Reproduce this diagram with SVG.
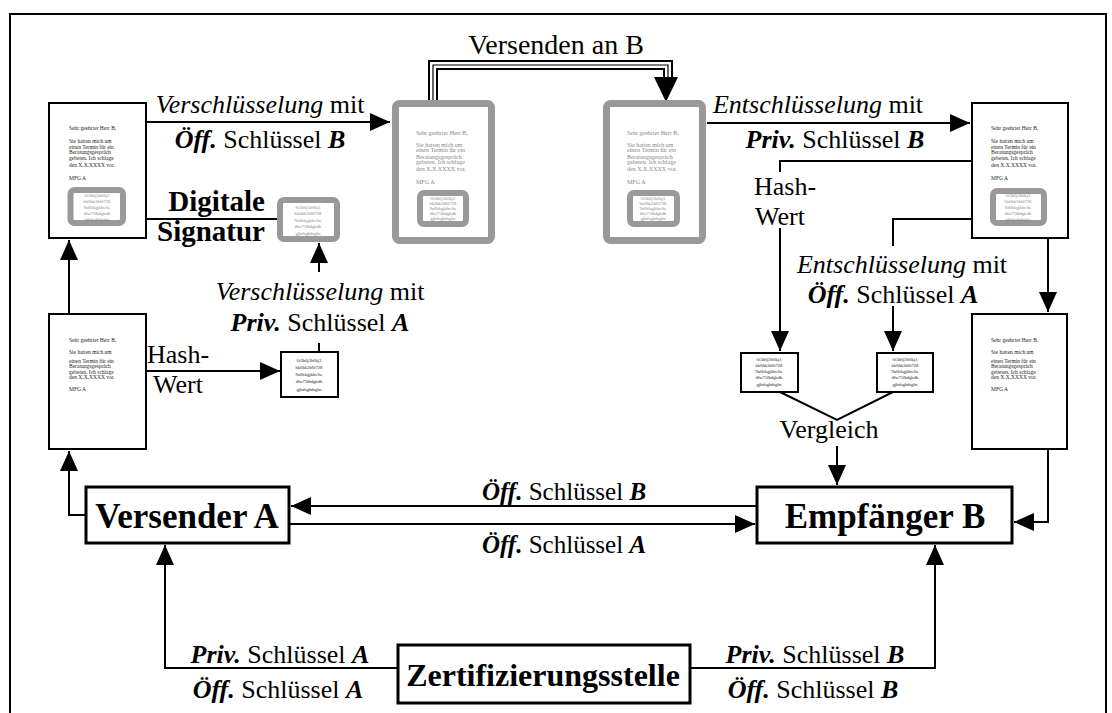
<svg xmlns="http://www.w3.org/2000/svg" width="1112" height="713" viewBox="0 0 1112 713">
<style>
.t{font-family:"Liberation Serif","Times New Roman",serif;font-size:26px;fill:#000}
.s25{font-size:25px}
.b{font-weight:bold}
.i{font-style:italic}
.big{font-family:"Liberation Serif","Times New Roman",serif;font-weight:bold;font-size:35px}
.doc{fill:#fff;stroke:#000;stroke-width:2}
.gdoc{fill:#fff;stroke:#999;stroke-width:7}
.gin{fill:#fff;stroke:#999;stroke-width:6}
.hb{fill:#fff;stroke:#000;stroke-width:2}
.lt{font-family:"Liberation Serif","Times New Roman",serif;font-size:5.5px;fill:#222}
.glt{font-family:"Liberation Serif","Times New Roman",serif;font-size:6px;fill:#888}
.ht{font-family:"Liberation Serif","Times New Roman",serif;font-size:4.6px;fill:#888;text-anchor:middle}
.hbt{font-family:"Liberation Serif","Times New Roman",serif;font-size:4.6px;fill:#222;text-anchor:middle}
.box{fill:#fff;stroke:#000;stroke-width:3}
.c{fill:none;stroke:#000;stroke-width:2}
.m{text-anchor:middle}
</style>
<defs>
<marker id="ah" viewBox="0 0 20 18" refX="20" refY="9" markerWidth="20" markerHeight="18" markerUnits="userSpaceOnUse" orient="auto"><path d="M0,0 L20,9 L0,18 z" fill="#000"/></marker>
</defs>
<rect x="10" y="14" width="1096" height="720" fill="none" stroke="#000" stroke-width="2"/>

<g id="connectors">
<path class="c" d="M146,122 H390" marker-end="url(#ah)"/>
<path class="c" d="M707,123 H970" marker-end="url(#ah)"/>
<path d="M433,102 V65 H668 V80" fill="none" stroke="#000" stroke-width="10"/>
<path d="M433,102 V65 H668 V80" fill="none" stroke="#fff" stroke-width="6"/>
<path d="M433,102 V65 H668 V80" fill="none" stroke="#000" stroke-width="1.2"/>
<path d="M654,77 L678,77 L666,102 z" fill="#000"/>
<path class="c" d="M277,219 H112" marker-end="url(#ah)"/>
<path class="c" d="M319,352 V343"/>
<path class="c" d="M319,272 V243" marker-end="url(#ah)"/>
<path class="c" d="M108,371 H280" marker-end="url(#ah)"/>
<path class="c" d="M69,314 V240" marker-end="url(#ah)"/>
<path class="c" d="M86,515 H69 V451" marker-end="url(#ah)"/>
<path class="c" d="M1000,161 H780 V172"/>
<path class="c" d="M780,228 V351" marker-end="url(#ah)"/>
<path class="c" d="M1003,219 H893 V246"/>
<path class="c" d="M893,306 V351" marker-end="url(#ah)"/>
<path class="c" d="M780,392 L837,420 L893,392"/>
<path class="c" d="M837,446 V485" marker-end="url(#ah)"/>
<path class="c" d="M1048,238 V312" marker-end="url(#ah)"/>
<path class="c" d="M1048,449 V522 H1014" marker-end="url(#ah)"/>
<path class="c" d="M757,506 H291" marker-end="url(#ah)"/>
<path class="c" d="M289,524 H755" marker-end="url(#ah)"/>
<path class="c" d="M398,668 H165 V545" marker-end="url(#ah)"/>
<path class="c" d="M690,668 H935 V545" marker-end="url(#ah)"/>
</g>

<g id="doc-a-top">
<rect class="doc" x="49" y="103" width="97" height="135"/>
<text class="lt" x="69" y="130">Sehr geehrter Herr B,</text>
<text class="lt" x="69" y="143">Sie hatten mich um</text>
<text class="lt" x="69" y="149">einen Termin für ein</text>
<text class="lt" x="69" y="154">Beratungsgespräch</text>
<text class="lt" x="69" y="160">gebeten. Ich schlage</text>
<text class="lt" x="69" y="167">den X.X.XXXX vor.</text>
<text class="lt" x="69" y="180">MFG A</text>
<rect class="gin" x="70.5" y="190" width="52.5" height="33" rx="4"/>
<text class="ht" x="97" y="197">6f3h6j3h6kj3</text>
<text class="ht" x="97" y="203">hk6hk3h6f728</text>
<text class="ht" x="97" y="209">9u6hkgjkhs/he</text>
<text class="ht" x="97" y="215">t8w758tdgkdh</text>
<text class="ht" x="97" y="221">gjhdsghdsghs</text>
</g>

<g id="doc-a-bottom">
<rect class="doc" x="49" y="314" width="97" height="135"/>
<text class="lt" x="69" y="342">Sehr geehrter Herr B,</text>
<text class="lt" x="69" y="354">Sie hatten mich um</text>
<text class="lt" x="69" y="363">einen Termin für ein</text>
<text class="lt" x="69" y="368">Beratungsgespräch</text>
<text class="lt" x="69" y="374">gebeten. Ich schlage</text>
<text class="lt" x="69" y="379">den X.X.XXXX vor.</text>
<text class="lt" x="69" y="391">MFG A</text>
</g>

<g id="signature">
<rect class="gin" x="280" y="200" width="57" height="39" rx="4"/>
<text class="ht" x="308" y="209">6f3h6j3h6kj3</text>
<text class="ht" x="308" y="215">hk6hk3h6f728</text>
<text class="ht" x="308" y="222">9u6hkgjkhs/he</text>
<text class="ht" x="308" y="228">t8w758tdgkdh</text>
<text class="ht" x="308" y="235">gjhdsghdsghs</text>
</g>

<g id="hash-a">
<rect class="hb" x="281" y="352" width="57" height="45"/>
<text class="hbt" x="309" y="362">6f3h6j3h6kj3</text>
<text class="hbt" x="309" y="369">hk6hk3h6f728</text>
<text class="hbt" x="309" y="376">9u6hkgjkhs/he</text>
<text class="hbt" x="309" y="383">t8w758tdgkdh</text>
<text class="hbt" x="309" y="391">gjhdsghdsghs</text>
</g>

<g id="doc-enc-1">
<rect class="gdoc" x="395.5" y="103.5" width="96" height="137" rx="4"/>
<text class="glt" x="416" y="135">Sehr geehrter Herr B,</text>
<text class="glt" x="416" y="147">Sie hatten mich um</text>
<text class="glt" x="416" y="152">einen Termin für ein</text>
<text class="glt" x="416" y="159">Beratungsgespräch</text>
<text class="glt" x="416" y="164">gebeten. Ich schlage</text>
<text class="glt" x="416" y="171">den X.X.XXXX vor.</text>
<text class="glt" x="416" y="184">MFG A</text>
<rect class="gin" x="420" y="193" width="46" height="31" rx="4"/>
<text class="ht" x="443" y="200">6f3h6j3h6kj3</text>
<text class="ht" x="443" y="205">hk6hk3h6f728</text>
<text class="ht" x="443" y="210">9u6hkgjkhs/he</text>
<text class="ht" x="443" y="215">t8w758tdgkdh</text>
<text class="ht" x="443" y="220">gjhdsghdsghs</text>
</g>

<g id="doc-enc-2">
<rect class="gdoc" x="606.5" y="103.5" width="96" height="137" rx="4"/>
<text class="glt" x="627" y="135">Sehr geehrter Herr B,</text>
<text class="glt" x="627" y="147">Sie hatten mich um</text>
<text class="glt" x="627" y="152">einen Termin für ein</text>
<text class="glt" x="627" y="159">Beratungsgespräch</text>
<text class="glt" x="627" y="164">gebeten. Ich schlage</text>
<text class="glt" x="627" y="171">den X.X.XXXX vor.</text>
<text class="glt" x="627" y="184">MFG A</text>
<rect class="gin" x="630" y="193" width="47" height="31" rx="4"/>
<text class="ht" x="653" y="200">6f3h6j3h6kj3</text>
<text class="ht" x="653" y="205">hk6hk3h6f728</text>
<text class="ht" x="653" y="210">9u6hkgjkhs/he</text>
<text class="ht" x="653" y="215">t8w758tdgkdh</text>
<text class="ht" x="653" y="220">gjhdsghdsghs</text>
</g>

<g id="doc-b-top">
<rect class="doc" x="972" y="103" width="96" height="135"/>
<text class="lt" x="991" y="130">Sehr geehrter Herr B,</text>
<text class="lt" x="991" y="143">Sie hatten mich um</text>
<text class="lt" x="991" y="149">einen Termin für ein</text>
<text class="lt" x="991" y="154">Beratungsgespräch</text>
<text class="lt" x="991" y="160">gebeten. Ich schlage</text>
<text class="lt" x="991" y="167">den X.X.XXXX vor.</text>
<text class="lt" x="991" y="180">MFG A</text>
<rect class="gin" x="993" y="191" width="51" height="32" rx="4"/>
<text class="ht" x="1018" y="197">6f3h6j3h6kj3</text>
<text class="ht" x="1018" y="203">hk6hk3h6f728</text>
<text class="ht" x="1018" y="209">9u6hkgjkhs/he</text>
<text class="ht" x="1018" y="215">t8w758tdgkdh</text>
<text class="ht" x="1018" y="221">gjhdsghdsghs</text>
</g>

<g id="doc-b-bottom">
<rect class="doc" x="972" y="314" width="95" height="135"/>
<text class="lt" x="991" y="342">Sehr geehrter Herr B,</text>
<text class="lt" x="991" y="354">Sie hatten mich um</text>
<text class="lt" x="991" y="363">einen Termin für ein</text>
<text class="lt" x="991" y="368">Beratungsgespräch</text>
<text class="lt" x="991" y="374">gebeten. Ich schlage</text>
<text class="lt" x="991" y="379">den X.X.XXXX vor.</text>
<text class="lt" x="991" y="391">MFG A</text>
</g>

<g id="hash-b1">
<rect class="hb" x="741" y="353" width="57" height="39"/>
<text class="hbt" x="769" y="361">6f3h6j3h6kj3</text>
<text class="hbt" x="769" y="367">hk6hk3h6f728</text>
<text class="hbt" x="769" y="373">9u6hkgjkhs/he</text>
<text class="hbt" x="769" y="379">t8w758tdgkdh</text>
<text class="hbt" x="769" y="386">gjhdsghdsghs</text>
</g>

<g id="hash-b2">
<rect class="hb" x="877" y="353" width="56" height="39"/>
<text class="hbt" x="905" y="361">6f3h6j3h6kj3</text>
<text class="hbt" x="905" y="367">hk6hk3h6f728</text>
<text class="hbt" x="905" y="373">9u6hkgjkhs/he</text>
<text class="hbt" x="905" y="379">t8w758tdgkdh</text>
<text class="hbt" x="905" y="386">gjhdsghdsghs</text>
</g>

<g id="versender">
<rect class="box" x="86" y="487" width="203" height="56"/>
<text class="big m" x="187" y="528">Versender A</text>
</g>
<g id="empfaenger">
<rect class="box" x="757" y="487" width="255" height="56"/>
<text class="big m" x="885" y="528">Empfänger B</text>
</g>
<g id="zert">
<rect class="box" x="398" y="645" width="292" height="58"/>
<text class="m" x="543" y="686" style="font-family:'Liberation Serif',serif;font-weight:bold;font-size:32px">Zertifizierungsstelle</text>
</g>

<g id="labels">
<text class="t m" x="556" y="54" style="font-size:28px">Versenden an B</text>
<text class="t m" x="260" y="113"><tspan class="i">Verschlüsselung</tspan> mit</text>
<text class="t m" x="260" y="148"><tspan class="b i">Öff.</tspan> Schlüssel <tspan class="b i">B</tspan></text>
<text class="t m" x="818" y="113"><tspan class="i">Entschlüsselung</tspan> mit</text>
<text class="t m" x="835" y="148"><tspan class="b i">Priv.</tspan> Schlüssel <tspan class="b i">B</tspan></text>
<text class="t b" x="265" y="211" text-anchor="end" style="font-size:29px">Digitale</text>
<text class="t b" x="265" y="241" text-anchor="end" style="font-size:29px">Signatur</text>
<text class="t m" x="320" y="300"><tspan class="i">Verschlüsselung</tspan> mit</text>
<text class="t m" x="320" y="331"><tspan class="b i">Priv.</tspan> Schlüssel <tspan class="b i">A</tspan></text>
<text class="t m" x="178" y="363">Hash-</text>
<text class="t m" x="178" y="393">Wert</text>
<text class="t m" x="785" y="195">Hash-</text>
<text class="t m" x="780" y="225">Wert</text>
<text class="t m" x="902" y="273"><tspan class="i">Entschlüsselung</tspan> mit</text>
<text class="t m" x="893" y="303"><tspan class="b i">Öff.</tspan> Schlüssel <tspan class="b i">A</tspan></text>
<text class="t m" x="829" y="438">Vergleich</text>
<text class="t m s25" x="564" y="500"><tspan class="b i">Öff.</tspan> Schlüssel <tspan class="b i">B</tspan></text>
<text class="t m s25" x="564" y="553"><tspan class="b i">Öff.</tspan> Schlüssel <tspan class="b i">A</tspan></text>
<text class="t m" x="280" y="663"><tspan class="b i">Priv.</tspan> Schlüssel <tspan class="b i">A</tspan></text>
<text class="t m" x="278" y="698"><tspan class="b i">Öff.</tspan> Schlüssel <tspan class="b i">A</tspan></text>
<text class="t m" x="815" y="663"><tspan class="b i">Priv.</tspan> Schlüssel <tspan class="b i">B</tspan></text>
<text class="t m" x="813" y="698"><tspan class="b i">Öff.</tspan> Schlüssel <tspan class="b i">B</tspan></text>
</g>
</svg>
